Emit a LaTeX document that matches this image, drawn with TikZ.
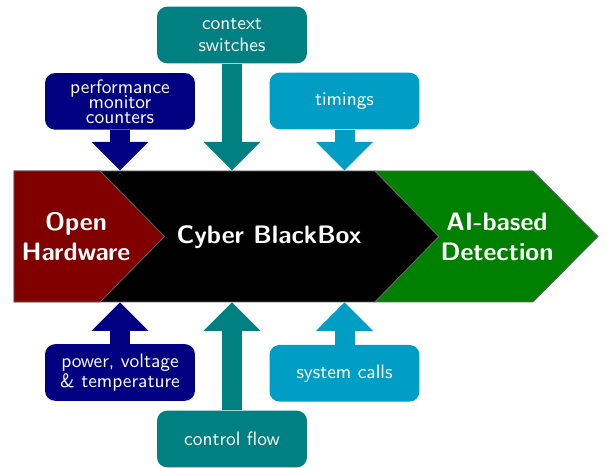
\documentclass[tikz,border=0pt]{standalone}
\usetikzlibrary{arrows.meta}
\definecolor{cnavy}{RGB}{0,0,128}
\definecolor{cteal}{RGB}{0,128,128}
\definecolor{csky}{RGB}{0,157,196}
\definecolor{cmaroon}{RGB}{128,0,0}
\definecolor{cgreen}{RGB}{0,128,0}
\newcommand{\tightlines}{\lineskiplimit=-20pt\relax}
\begin{document}
\begin{tikzpicture}[x=0.5155pt,y=-0.5155pt,
  srcbox/.style={rounded corners=5.2pt, minimum width=77.3pt, minimum height=29.2pt,
    inner sep=0pt, text=white, align=center},
  lbl/.style={font={\sffamily\fontsize{10}{#1}\selectfont\tightlines}},
  feed/.style={line width=10.31pt, -{Triangle[width=29.38pt,length=14.69pt,line width=0pt]}},
  band/.style={draw=black!60, line width=0.4pt},
  bandtext/.style={text=white, align=center, inner sep=0pt,
    font=\sffamily\bfseries\fontsize{13}{15.4}\selectfont}]
\useasboundingbox (0,0) rectangle (606,468);

% main band
\path[band, fill=black] (14,171) -- (375,171) -- (439,236.5) -- (375,302) -- (14,302) -- cycle;
\path[band, fill=cmaroon] (14,171) -- (100,171) -- (164.5,236.5) -- (100,302) -- (14,302) -- cycle;
\path[band, fill=cgreen] (375,171) -- (533,171) -- (598,236.5) -- (533,302) -- (375,302) -- (439,236.5) -- cycle;

\node[bandtext] (hw) at (76,237) {Open\\Hardware};
\node[bandtext] (bb) at (269,237) {Cyber BlackBox};
\node[bandtext] (ai) at (497,237) {AI-based\\Detection};

% entry points on the band
\coordinate (t1) at (120,170.5);
\coordinate (t2) at (232,170.5);
\coordinate (t3) at (344.5,170.5);
\coordinate (b1) at (120,302.5);
\coordinate (b2) at (232,302.5);
\coordinate (b3) at (344.5,302.5);

% source boxes
\node[srcbox, fill=cnavy, lbl=7.73] (pm) at (120,101.4) {performance\\monitor\\counters};
\node[srcbox, fill=cteal, lbl=11] (cs) at (232,35) {context\\switches};
\node[srcbox, fill=csky, lbl=12] (tm) at (344.5,101) {timings};
\node[srcbox, fill=cnavy, lbl=10.5] (pv) at (120,372.5) {power, voltage\\\& temperature};
\node[srcbox, fill=cteal, lbl=12] (cf) at (232,439) {control flow};
\node[srcbox, fill=csky, lbl=12] (sc) at (344.5,373.3) {system calls};

% feeds
\draw[feed, cnavy] (pm.south) -- (t1);
\draw[feed, cteal] (cs.south) -- (t2);
\draw[feed, csky] (tm.south) -- (t3);
\draw[feed, cnavy] (pv.north) -- (b1);
\draw[feed, cteal] (cf.north) -- (b2);
\draw[feed, csky] (sc.north) -- (b3);
\end{tikzpicture}
\end{document}
